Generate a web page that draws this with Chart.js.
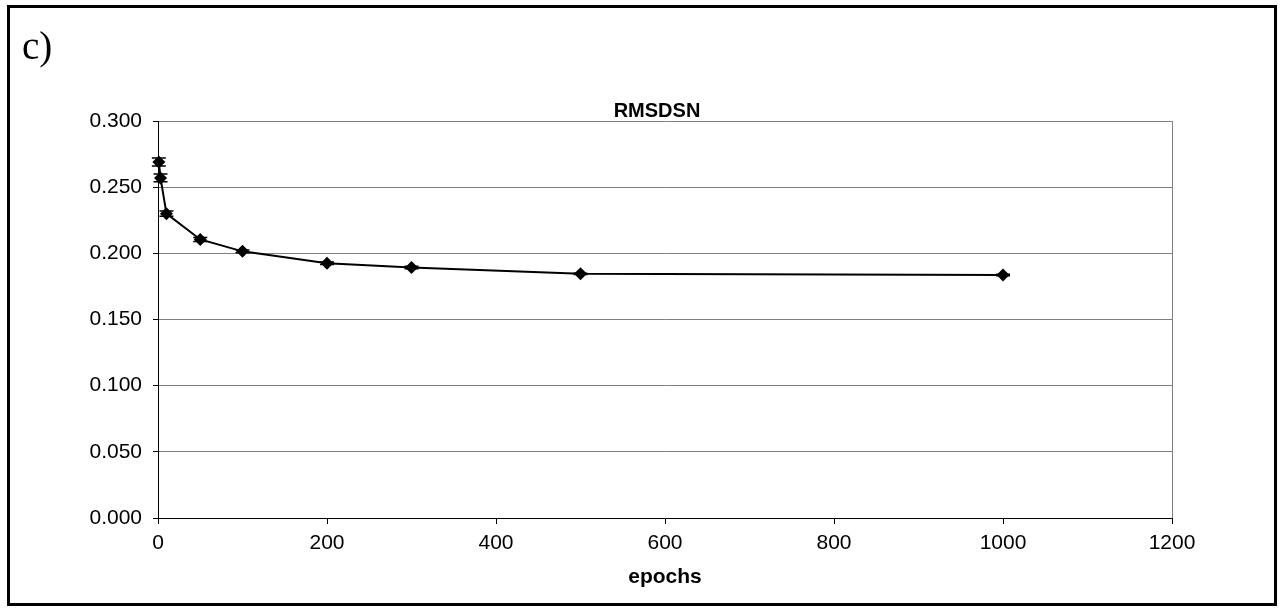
<!DOCTYPE html>
<html>
<head>
<meta charset="utf-8">
<script src="https://cdn.jsdelivr.net/npm/chart.js@4.4.1/dist/chart.umd.min.js"></script>
<style>
  html, body { margin: 0; padding: 0; background: #fff; }
  #wrap { position: relative; width: 1280px; height: 609px; overflow: hidden; }
  #frame { position: absolute; left: 7px; top: 5px; width: 1264px; height: 595px; border: 3px solid #000; pointer-events: none; }
  #lab { position: absolute; left: 22px; top: 23px; font-family: "Liberation Serif", "DejaVu Serif", serif; font-size: 39px; color: #000; }
  canvas { position: absolute; left: 0; top: 0; }
</style>
</head>
<body>
<div id="wrap">
  <canvas id="c" width="1280" height="609"></canvas>
  <div id="frame"></div>
  <div id="lab">c)</div>
</div>
<script>
const chartTitle = "RMSDSN";
const xAxisTitle = "epochs";
const epochs = [1, 3, 10, 50, 100, 200, 300, 500, 1000];
const rmsdsn = [0.269, 0.257, 0.230, 0.2105, 0.2015, 0.1925, 0.1893, 0.1845, 0.1836];
const rmsdsnErr = [0.003, 0.003, 0.002, 0.0015, 0.001, 0.001, 0.001, 0.0005, 0.0005];
const xTickValues = [0, 200, 400, 600, 800, 1000, 1200];
const yTickValues = [0.000, 0.050, 0.100, 0.150, 0.200, 0.250, 0.300];

const FONT = '"Liberation Sans", Arial, sans-serif';

const errorBars = {
  id: 'errorBars',
  afterDatasetsDraw(chart) {
    const ctx = chart.ctx;
    const xs = chart.scales.x, ys = chart.scales.y;
    ctx.save();
    ctx.strokeStyle = '#000';
    ctx.lineWidth = 1.5;
    for (let i = 0; i < epochs.length; i++) {
      const px = xs.getPixelForValue(epochs[i]);
      const top = ys.getPixelForValue(rmsdsn[i] + rmsdsnErr[i]);
      const bot = ys.getPixelForValue(rmsdsn[i] - rmsdsnErr[i]);
      const cap = 7;
      ctx.beginPath();
      ctx.moveTo(px, top); ctx.lineTo(px, bot);
      ctx.moveTo(px - cap, top); ctx.lineTo(px + cap, top);
      ctx.moveTo(px - cap, bot); ctx.lineTo(px + cap, bot);
      ctx.stroke();
    }
    ctx.restore();
  }
};

const topTitle = {
  id: 'topTitle',
  afterDraw(chart) {
    const ctx = chart.ctx;
    const a = chart.chartArea;
    ctx.save();
    ctx.font = 'bold 20px ' + FONT;
    ctx.fillStyle = '#000';
    ctx.textAlign = 'center';
    ctx.textBaseline = 'alphabetic';
    ctx.fillText(chartTitle, (a.left + a.right) / 2 - 8, a.top - 4);
    ctx.restore();
  }
};

new Chart(document.getElementById('c'), {
  type: 'scatter',
  data: {
    datasets: [{
      label: chartTitle,
      data: epochs.map((e, i) => ({ x: e, y: rmsdsn[i] })),
      showLine: true,
      clip: false,
      borderColor: '#000',
      borderWidth: 2,
      backgroundColor: '#000',
      pointStyle: 'rectRot',
      pointRadius: 6.5,
      pointBorderWidth: 0,
      tension: 0
    }]
  },
  options: {
    responsive: false,
    animation: false,
    devicePixelRatio: 1,
    layout: { padding: { top: 121, right: 108, left: 0, bottom: 0 } },
    plugins: {
      legend: { display: false },
      title: { display: false },
      tooltip: { enabled: false }
    },
    scales: {
      x: {
        type: 'linear',
        min: xTickValues[0],
        max: xTickValues[xTickValues.length - 1],
        afterBuildTicks(scale) { scale.ticks = xTickValues.map(v => ({ value: v })); },
        afterFit(scale) { scale.height = 91; },
        ticks: {
          color: '#000',
          font: { family: FONT, size: 21 },
          padding: 7,
          maxRotation: 0,
          callback: v => String(v)
        },
        grid: {
          color: c => (c.tick && c.tick.value === 1200) ? '#808080' : 'rgba(0,0,0,0)',
          lineWidth: 1,
          tickColor: '#000',
          tickLength: 6
        },
        border: { color: '#000', width: 1 },
        title: {
          display: true,
          text: xAxisTitle,
          color: '#000',
          font: { family: FONT, size: 21, weight: 'bold' },
          padding: { top: 0, bottom: 19 }
        }
      },
      y: {
        min: yTickValues[0],
        max: yTickValues[yTickValues.length - 1],
        afterBuildTicks(scale) { scale.ticks = yTickValues.map(v => ({ value: v })); },
        afterFit(scale) { scale.width = 158; },
        ticks: {
          color: '#000',
          font: { family: FONT, size: 21 },
          padding: 11,
          callback: v => Number(v).toFixed(3)
        },
        grid: {
          color: '#808080',
          lineWidth: 1,
          tickColor: '#000',
          tickLength: 5
        },
        border: { color: '#000', width: 1 }
      }
    }
  },
  plugins: [errorBars, topTitle]
});
</script>
</body>
</html>
